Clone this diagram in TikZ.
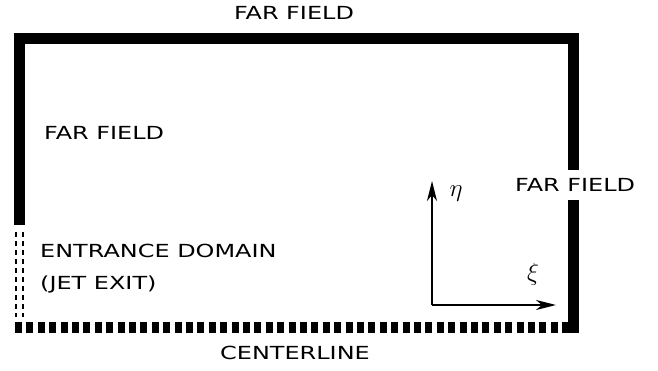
\documentclass[tikz,border=0pt]{standalone}
\usepackage{fontspec}
\setmainfont{DejaVu Sans}
\newfontfamily\widesans[FakeStretch=1.33]{DejaVu Sans}
\usepackage{amsmath}
\usetikzlibrary{positioning,arrows.meta}

\begin{document}
\begin{tikzpicture}[x=1pt,y=-1pt]
  % Styles
  \tikzstyle{wall}=[line width=11pt,line join=miter]
  \tikzstyle{centerline}=[line width=11pt,dash pattern=on 7pt off 4.4pt]
  \tikzstyle{inlet}=[line width=2pt,dash pattern=on 5pt off 4pt]
  \tikzstyle{axis}=[line width=2pt,-{Stealth[length=20pt,width=10pt,inset=6pt]}]
  \tikzstyle{label}=[font=\widesans\fontsize{18}{20}\selectfont,inner sep=0pt]
  \tikzstyle{symbol}=[font=\fontsize{26}{28}\selectfont,inner sep=0pt]

  \useasboundingbox (0,0) rectangle (658,371);

  % Boundaries
  \draw[style=wall] (19.5,225) -- (19.5,38.5) -- (573,38.5) -- (573,170);
  \draw[style=wall] (573,200) -- (573,333);
  \draw[style=centerline] (15,327.5) -- (567.5,327.5);
  \draw[style=inlet] (16,232) -- (16,317);
  \draw[style=inlet] (22.5,232) -- (22.5,317);

  % Labels
  \node[label] (top) at (294,13) {FAR FIELD};
  \node[label,anchor=west] (left) at (44,133) {FAR FIELD};
  \node[label,anchor=west] (right) at (515,185) {FAR FIELD};
  \node[label,anchor=west] (entrance) at (40,251) {ENTRANCE DOMAIN};
  \node[label,anchor=west] (jet) at (40,284) {(JET EXIT)};
  \node[label] (center) at (295,353) {CENTERLINE};

  % Coordinate directions
  \coordinate (o) at (432,305);
  \coordinate (etaend) at (432,181);
  \coordinate (xiend) at (556,305);
  \draw[style=axis] (o) -- (etaend);
  \draw[style=axis] (o) -- (xiend);
  \node[symbol] (eta) at (456,194) {$\eta$};
  \node[symbol] (xi) at (533,274) {$\xi$};
\end{tikzpicture}
\end{document}
